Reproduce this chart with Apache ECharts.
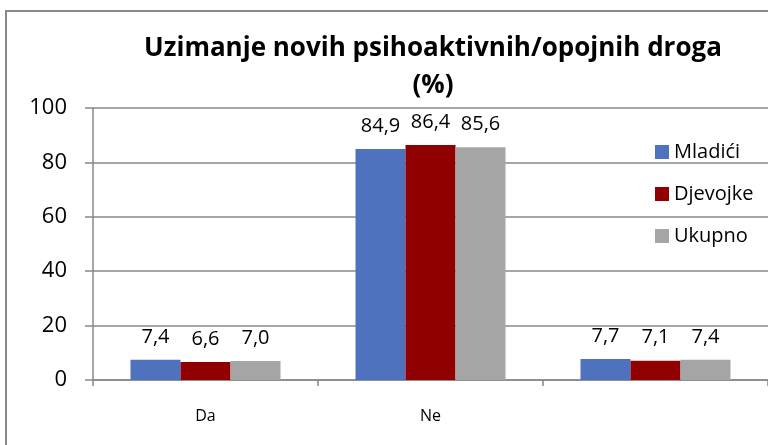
<!DOCTYPE html>
<html>
<head>
<meta charset="utf-8">
<script src="https://cdn.jsdelivr.net/npm/echarts@6/dist/echarts.min.js"></script>
<style>
  html, body { margin: 0; padding: 0; background: #fff; }
  #chart { width: 768px; height: 445px; }
</style>
</head>
<body>
<div id="chart"></div>
<script>
// Answer categories (third group has no label)
const categories = ['Da', 'Ne', ''];
const seriesNames = ['Mladići', 'Djevojke', 'Ukupno'];
const mladici = [7.4, 84.9, 7.7];
const djevojke = [6.6, 86.4, 7.1];
const ukupno = [7.0, 85.6, 7.4];
const yTicks = [0, 20, 40, 60, 80, 100];

const colors = ['#4F72BE', '#900000', '#A5A5A5'];
const font = 'Open Sans';
const fmt = p => p.value.toFixed(1).replace('.', ',');

const chart = echarts.init(document.getElementById('chart'), null, { renderer: 'canvas' });

const mkSeries = (name, data, color) => ({
  name: name,
  type: 'bar',
  data: data,
  barWidth: 50,
  barGap: '0%',
  itemStyle: { color: color },
  label: {
    show: true,
    position: 'top',
    distance: 13,
    formatter: fmt,
    fontFamily: font,
    fontSize: 20,
    color: '#000'
  }
});

chart.setOption({
  animation: false,
  backgroundColor: '#fff',
  title: {
    text: 'Uzimanje novih psihoaktivnih/opojnih droga\n(%)',
    left: 428,
    textAlign: 'center',
    top: 25,
    textStyle: {
      fontFamily: font,
      fontWeight: 'bold',
      fontSize: 26,
      lineHeight: 37,
      color: '#000'
    }
  },
  graphic: [{
    type: 'rect',
    shape: { x: 6, y: 11, width: 780, height: 460 },
    style: { fill: 'none', stroke: '#888', lineWidth: 2 },
    silent: true
  }],
  legend: {
    orient: 'vertical',
    left: 650,
    top: 137,
    itemWidth: 14,
    itemHeight: 14,
    itemGap: 22,
    icon: 'rect',
    textStyle: { fontFamily: font, fontSize: 20, color: '#000' },
    data: seriesNames
  },
  grid: { left: 93, right: 0, top: 108, bottom: 65, containLabel: false },
  xAxis: {
    type: 'category',
    data: categories,
    axisLine: { lineStyle: { color: '#888', width: 1.5 } },
    axisTick: { show: true, length: 6, alignWithLabel: false, lineStyle: { color: '#888', width: 1.5 } },
    axisLabel: { fontFamily: font, fontSize: 16, color: '#000', margin: 28 }
  },
  yAxis: {
    type: 'value',
    min: yTicks[0],
    max: yTicks[yTicks.length - 1],
    interval: 20,
    axisLine: { show: true, lineStyle: { color: '#888', width: 1.5 } },
    axisTick: { show: true, length: 8, lineStyle: { color: '#888', width: 1.5 } },
    splitLine: { lineStyle: { color: '#888', width: 1.5 } },
    axisLabel: { fontFamily: font, fontSize: 22, color: '#000', margin: 26 }
  },
  series: [
    mkSeries(seriesNames[0], mladici, colors[0]),
    mkSeries(seriesNames[1], djevojke, colors[1]),
    mkSeries(seriesNames[2], ukupno, colors[2])
  ]
});
</script>
</body>
</html>
